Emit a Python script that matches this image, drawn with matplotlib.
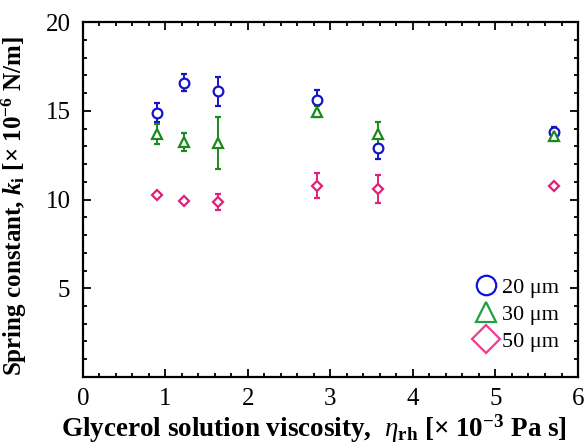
import matplotlib
matplotlib.use('Agg')
import matplotlib.pyplot as plt
from matplotlib.ticker import MultipleLocator
from matplotlib.lines import Line2D

plt.rcParams['font.family'] = 'Liberation Serif'
plt.rcParams['mathtext.fontset'] = 'custom'
plt.rcParams['mathtext.rm'] = 'Liberation Serif'
plt.rcParams['mathtext.it'] = 'Liberation Serif:italic'
plt.rcParams['mathtext.bf'] = 'Liberation Serif:bold'
plt.rcParams['mathtext.bfit'] = 'Liberation Serif:bold:italic'

viscosity = [0.9, 1.22, 1.64, 2.84, 3.58, 5.71]

k20 = [14.9, 16.6, 16.1, 15.6, 12.9, 13.8]
k20_err = [0.55, 0.5, 0.8, 0.6, 0.6, 0.3]

k30 = [13.7, 13.25, 13.2, 14.95, 13.7, 13.6]
k30_err = [0.55, 0.5, 1.45, 0.3, 0.65, 0.3]

k50 = [10.25, 9.93, 9.85, 10.78, 10.6, 10.78]
k50_err = [0.1, 0.1, 0.45, 0.7, 0.8, 0.0]

labels = ['20 \u03bcm', '30 \u03bcm', '50 \u03bcm']

fig = plt.figure(figsize=(5.88, 4.44), dpi=100)
ax = fig.add_axes([0.141, 0.151, 0.842, 0.799])

ax.errorbar(viscosity, k20, yerr=k20_err, fmt='o', color='#1414c8', mfc='white',
            ms=7, mew=1.6, elinewidth=1.4, capsize=2.5, capthick=1.4)
ax.errorbar(viscosity, k30, yerr=k30_err, fmt='^', color='#1a8a1a', mfc='white',
            ms=7.5, mew=1.6, elinewidth=1.4, capsize=2.5, capthick=1.4)
ax.errorbar(viscosity, k50, yerr=k50_err, fmt='D', color='#e0207a', mfc='white',
            ms=5.5, mew=1.6, elinewidth=1.4, capsize=2.5, capthick=1.4)

ax.set_xlim(0, 6)
ax.set_ylim(0, 20)
ax.xaxis.set_major_locator(MultipleLocator(1))
ax.xaxis.set_minor_locator(MultipleLocator(0.2))
ax.set_yticks([5, 10, 15, 20])
ax.yaxis.set_minor_locator(MultipleLocator(1))
ax.tick_params(which='both', direction='in', top=True, right=True, width=1.3)
ax.tick_params(which='major', length=6, labelsize=18)
ax.tick_params(axis='x', which='major', pad=8)
ax.tick_params(axis='y', which='major', pad=9)
ax.tick_params(which='minor', length=3)
for s in ax.spines.values():
    s.set_linewidth(1.6)

ax.set_xlabel('Glycerol solution viscosity,  $\\mathit{\\eta}_{\\mathbf{rh}}$ [\u00d7 10$^{\\mathbf{-3}}$ Pa s]',
              fontsize=19.5, fontweight='bold')
ax.xaxis.set_label_coords(0.466, -0.1)
ax.set_ylabel('Spring constant, $\\mathbfit{k}_{\\mathbf{i}}$ [\u00d7 10$^{\\mathbf{-6}}$ N/m]',
              fontsize=18, fontweight='bold')
ax.yaxis.set_label_coords(-0.108, 0.48)

handles = [
    Line2D([], [], ls='none', marker='o', ms=14, mfc='white', mec='#1010e0', mew=1.6),
    Line2D([], [], ls='none', marker='^', ms=15, mfc='white', mec='#20a040', mew=1.6),
    Line2D([], [], ls='none', marker='D', ms=14, mfc='white', mec='#f03c8c', mew=1.6),
]
ax.legend(handles, labels, loc='lower right', bbox_to_anchor=(0.98, 0.045),
          frameon=False, fontsize=16, handletextpad=0.15, handlelength=1.2,
          labelspacing=0.3, borderaxespad=0.0)

fig.savefig('out.png', dpi=100)
